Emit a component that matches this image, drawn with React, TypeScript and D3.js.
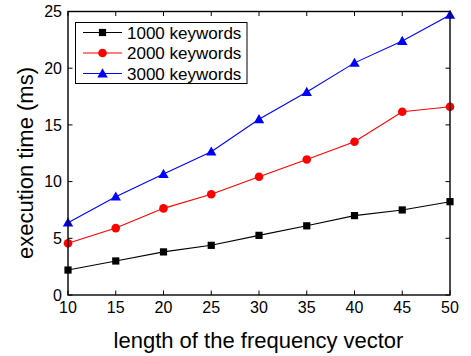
import React from "react";
import * as d3 from "d3";

const lengths = [10, 15, 20, 25, 30, 35, 40, 45, 50];
const kw1000 = [2.2, 3.0, 3.8, 4.38, 5.26, 6.1, 7.0, 7.5, 8.23];
const kw2000 = [4.56, 5.9, 7.64, 8.88, 10.43, 11.95, 13.52, 16.16, 16.6];
const kw3000 = [6.38, 8.67, 10.67, 12.64, 15.5, 17.9, 20.47, 22.4, 24.7];
const seriesNames = ["1000 keywords", "2000 keywords", "3000 keywords"];
const xTicks = [10, 15, 20, 25, 30, 35, 40, 45, 50];
const yTicks = [0, 5, 10, 15, 20, 25];

const W = 471;
const H = 356;
const left = 68;
const right = 450;
const top = 11.5;
const bottom = 295;
const font = "'Liberation Sans', Arial, sans-serif";

type Shape = "square" | "circle" | "triangle";

function Marker({ x, y, shape, color }: { x: number; y: number; shape: Shape; color: string }) {
  if (shape === "square") return <rect x={x - 3.6} y={y - 3.6} width={7.2} height={7.2} fill={color} />;
  if (shape === "circle") return <circle cx={x} cy={y} r={4.3} fill={color} />;
  const s = 5.2;
  return <path d={`M${x},${y - s}L${x + s},${y + s * 0.75}L${x - s},${y + s * 0.75}Z`} fill={color} />;
}

export default function App() {
  const x = d3.scaleLinear().domain([10, 50]).range([left, right]);
  const y = d3.scaleLinear().domain([0, 25]).range([bottom, top]);
  const line = d3
    .line<number>()
    .x((_, i) => x(lengths[i]))
    .y((v) => y(v));

  const series = [
    { name: seriesNames[0], values: kw1000, color: "#000000", shape: "square" as Shape },
    { name: seriesNames[1], values: kw2000, color: "#ff0000", shape: "circle" as Shape },
    { name: seriesNames[2], values: kw3000, color: "#0000ff", shape: "triangle" as Shape },
  ];

  const tick = 4.5;

  return (
    <svg width={W} height={H} style={{ position: "absolute", left: 0, top: 0 }} fontFamily={font}>
      <rect width={W} height={H} fill="#fff" />
      {/* inward ticks on all four sides */}
      {xTicks.map((t) => (
        <g key={"x" + t}>
          <line x1={x(t)} x2={x(t)} y1={bottom} y2={bottom - tick} stroke="#000" strokeWidth={1} />
          <line x1={x(t)} x2={x(t)} y1={top} y2={top + tick} stroke="#000" strokeWidth={1} />
          <text x={x(t)} y={313.3} fontSize={16} textAnchor="middle" fill="#000">
            {t}
          </text>
        </g>
      ))}
      {yTicks.map((t) => (
        <g key={"y" + t}>
          <line x1={left} x2={left + tick} y1={y(t)} y2={y(t)} stroke="#000" strokeWidth={1} />
          <line x1={right} x2={right - tick} y1={y(t)} y2={y(t)} stroke="#000" strokeWidth={1} />
          <text x={62} y={y(t) + 5.8} fontSize={16} textAnchor="end" fill="#000">
            {t}
          </text>
        </g>
      ))}
      {series.map((s) => (
        <g key={s.name}>
          <path d={line(s.values) || ""} fill="none" stroke={s.color} strokeWidth={1.1} />
          {s.values.map((v, i) => (
            <Marker key={i} x={x(lengths[i])} y={y(v)} shape={s.shape} color={s.color} />
          ))}
        </g>
      ))}
      <rect x={left} y={top} width={right - left} height={bottom - top} fill="none" stroke="#000" strokeWidth={1.4} />
      {/* legend */}
      <rect x={75.5} y={22.5} width={171.5} height={61} fill="#fff" stroke="#000" strokeWidth={1} />
      {series.map((s, i) => {
        const ly = 32.5 + i * 20.5;
        return (
          <g key={"lg" + s.name}>
            <line x1={83} x2={122} y1={ly} y2={ly} stroke={s.color} strokeWidth={1.1} />
            <Marker x={102.5} y={ly} shape={s.shape} color={s.color} />
            <text x={127} y={ly + 6} fontSize={17} fill="#000">
              {s.name}
            </text>
          </g>
        );
      })}
      <text x={258.5} y={347.5} fontSize={22} textAnchor="middle" fill="#000">
        length of the frequency vector
      </text>
      <text transform={`translate(33,163) rotate(-90)`} fontSize={22} textAnchor="middle" fill="#000">
        execution time (ms)
      </text>
    </svg>
  );
}
